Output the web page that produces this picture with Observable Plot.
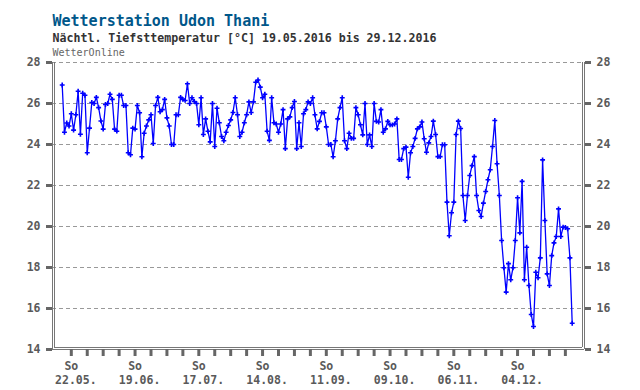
<!DOCTYPE html>
<html><head><meta charset="utf-8">
<script src="https://cdn.jsdelivr.net/npm/d3@7"></script>
<script src="https://cdn.jsdelivr.net/npm/@observablehq/plot@0.6"></script>
<style>body{margin:0;background:#fff} svg{display:block}</style>
</head><body><div id="chart"></div>
<script>
const title = "Wetterstation Udon Thani";
const subtitle = "Nächtl. Tiefsttemperatur [°C] 19.05.2016 bis 29.12.2016";
const source = "WetterOnline";
const startDate = "2016-05-19";
// daily minimum temperature, 19.05.2016 .. 29.12.2016
const tmin = [
26.9, 24.6, 25.05, 24.9, 25.5, 24.7, 25.45, 26.6, 24.5, 26.5,
26.4, 23.6, 24.8, 26.05, 26.0, 26.3, 25.8, 25.15, 24.75, 25.95,
26.0, 26.45, 26.2, 24.75, 24.65, 26.4, 26.4, 25.9, 25.9, 23.6,
23.5, 24.8, 24.75, 25.9, 25.55, 23.4, 24.55, 24.9, 25.2, 25.45,
24.05, 25.9, 26.3, 25.6, 25.7, 26.2, 25.3, 24.9, 24.0, 24.0,
25.45, 25.45,
26.3, 26.2, 26.15, 26.96, 26.0, 26.28, 26.1, 26.0,
24.96, 26.28, 24.49, 25.25, 24.65, 24.13, 26.0, 23.9, 25.77, 25.06,
24.39, 24.18, 24.6, 24.93, 25.2, 25.56, 26.28, 25.45, 24.39, 24.6,
25.06, 25.45, 26.08, 25.56, 26.08, 27.04, 27.15, 26.8, 26.28, 26.45,
24.65, 24.2, 26.28, 25.06, 25.0, 24.6, 25.0, 25.7, 23.8, 25.25,
25.35, 25.8, 26.1, 23.8, 25.06, 23.9, 25.5, 25.7,
26.08, 26.0, 26.28, 25.45, 24.76, 25.13, 25.55, 25.55, 24.86, 24.0,
24.0, 23.4, 24.18, 25.25, 25.8, 26.28, 24.18, 23.8, 24.55, 24.3,
24.3, 25.8, 25.45, 24.96, 24.47, 26.0, 24.0, 24.47, 23.9, 26.0,
25.13, 25.1, 25.7, 24.6, 24.76, 25.13, 24.96, 24.96, 25.0, 25.25,
23.27, 23.27, 23.8, 23.87, 22.4, 23.6, 23.9, 24.3, 24.76, 24.86,
25.1,
24.28, 23.62, 24.08, 24.39, 25.14, 24.49, 23.41, 23.41, 23.99, 23.99,
21.19, 19.55, 20.67, 21.19, 24.49, 25.14, 24.78, 21.51, 20.29, 21.51,
22.49, 22.97, 23.41, 21.51, 20.78, 20.49, 21.14, 21.71, 22.28, 22.77,
23.9, 25.17, 23.06, 21.51, 19.32, 17.99, 16.8, 18.19, 17.4, 17.99,
19.32, 21.4, 19.69, 22.2, 17.4, 18.99, 17.12, 15.71, 15.12, 17.77,
17.5, 18.47, 23.25, 20.29, 17.69, 17.12, 18.58, 19.2, 19.51, 20.86,
19.51, 19.97, 19.95, 19.89, 18.47, 15.28
];
const yTicks = [14, 16, 18, 20, 22, 24, 26, 28];
const weekStart = "2016-05-22";
const weekEnd = "2016-12-26";
const labelSundays = ["2016-05-22", "2016-06-19", "2016-07-17", "2016-08-14",
                      "2016-09-11", "2016-10-09", "2016-11-06", "2016-12-04"];
const weekdayLabel = "So";

const DAY = 864e5;
const start = new Date(startDate);
const data = tmin.map((v, i) => ({date: d3.utcDay.offset(start, i), t: v}));
const endOfDay = d => d3.utcDay.offset(d, 1);
const weekTicks = d3.utcSunday.range(new Date(weekStart), new Date(weekEnd)).map(endOfDay);
const labels = labelSundays.map(s => new Date(s));
const xDomain = [new Date(+start - 4.26 * DAY), new Date(+start + 229.4 * DAY)];
const fmt = d3.utcFormat("%d.%m.");
const frameColor = "#777";
const labelColor = "#5a5a5a";
const blue = "#0000ff";

const chart = Plot.plot({
  width: 640, height: 390,
  marginLeft: 52, marginRight: 56, marginTop: 62, marginBottom: 41,
  style: {fontFamily: "DejaVu Sans Mono", background: "#fff"},
  x: {type: "utc", domain: xDomain, label: null},
  y: {domain: [14, 28], label: null},
  marks: [
    Plot.gridY(yTicks, {stroke: "#999", strokeOpacity: 1, strokeDasharray: "4,3"}),
    Plot.ruleX(xDomain, {stroke: frameColor}),
    Plot.ruleX([xDomain[0]], {dx: 2, insetBottom: 2, stroke: frameColor}),
    Plot.ruleX([xDomain[1]], {dx: -2, insetBottom: 2, stroke: frameColor}),
    Plot.ruleY([14], {stroke: frameColor}),
    Plot.ruleY([14], {dy: -2, insetLeft: 2, insetRight: 2, stroke: frameColor}),
    Plot.axisY(yTicks, {anchor: "left", label: null, tickSize: 6, tickPadding: 6, strokeWidth: 3, stroke: "#666",
      fill: labelColor, fontWeight: "bold", fontSize: 11.5}),
    Plot.axisY(yTicks, {anchor: "right", label: null, tickSize: 6, tickPadding: 6, strokeWidth: 3, stroke: "#666",
      fill: labelColor, fontWeight: "bold", fontSize: 11.5}),
    Plot.axisX(weekTicks, {label: null, tickSize: 7, strokeWidth: 3, stroke: "#666", tickFormat: () => ""}),
    Plot.text(labels, {x: endOfDay, text: () => weekdayLabel, frameAnchor: "bottom", lineAnchor: "bottom",
      dy: 20.5, fontSize: 11.5, fontWeight: "bold", fill: labelColor}),
    Plot.text(labels, {x: endOfDay, text: d => fmt(d), frameAnchor: "bottom", lineAnchor: "bottom",
      dy: 34, dx: 4.5, fontSize: 11.5, fontWeight: "bold", fill: labelColor}),
    Plot.line(data, {x: "date", y: "t", stroke: blue, strokeWidth: 1.3}),
    Plot.dot(data, {x: "date", y: "t", symbol: "plus", r: 1.7, stroke: blue, strokeWidth: 1.6}),
    Plot.text([title], {frameAnchor: "top-left", textAnchor: "start", lineAnchor: "bottom", dy: -37,
      fontSize: 15, fontWeight: "bold", fill: "#00578a"}),
    Plot.text([subtitle], {frameAnchor: "top-left", textAnchor: "start", lineAnchor: "bottom", dy: -20.5,
      fontSize: 11.6, fontWeight: "bold", fill: "#333"}),
    Plot.text([source], {frameAnchor: "top-left", textAnchor: "start", lineAnchor: "bottom", dy: -7,
      fontSize: 10, fill: "#666"})
  ]
});
document.getElementById("chart").append(chart);
</script>
</body></html>
